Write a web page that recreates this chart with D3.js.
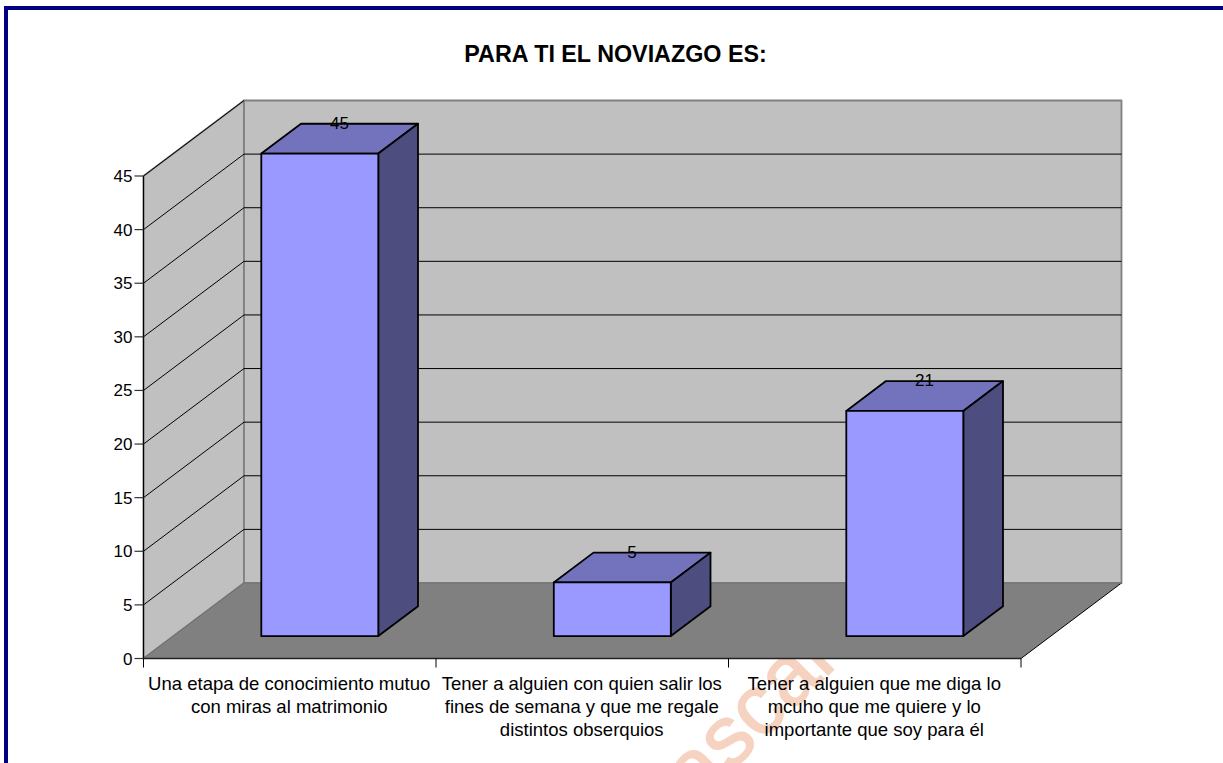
<!DOCTYPE html>
<html><head><meta charset="utf-8">
<script src="https://cdn.jsdelivr.net/npm/d3@7/dist/d3.min.js"></script>
<style>html,body{margin:0;padding:0;background:#fff;overflow:hidden}svg{display:block}text{font-family:"Liberation Sans",Arial,sans-serif;fill:#000}</style>
</head><body><svg id="c" width="1223" height="763"></svg>
<script>
const title = "PARA TI EL NOVIAZGO ES:";
const categories = [
  ["Una etapa de conocimiento mutuo","con miras al matrimonio"],
  ["Tener a alguien con quien salir los","fines de semana y que me regale","distintos obserquios"],
  ["Tener a alguien que me diga lo","mcuho que me quiere y lo","importante que soy para él"]
];
const values = [45, 5, 21];
const yTicks = [0,5,10,15,20,25,30,35,40,45];

const svg = d3.select("#c");
const y = d3.scaleLinear().domain([0,45]).range([658.5,176]);
const x = d3.scaleBand().domain(d3.range(categories.length)).range([143.5,1021]);
const DX = 100.5, DY = -75.5;
const depthFront = 0.297, depthBar = 0.395;
const barW = x.bandwidth()*0.4;
const line = d3.line();
const poly = (pts,fill,stroke,sw)=>svg.append("path").attr("d",line(pts)+"Z").attr("fill",fill).attr("stroke",stroke||"none").attr("stroke-width",sw||0).attr("stroke-linejoin","round");
const seg = (a,b,stroke,sw)=>svg.append("line").attr("x1",a[0]).attr("y1",a[1]).attr("x2",b[0]).attr("y2",b[1]).attr("stroke",stroke).attr("stroke-width",sw);

// watermark, beneath the chart
svg.append("text").attr("transform","translate(697,806) rotate(-45)")
  .attr("font-size",85).attr("style","fill:#f6d3c0;stroke:#f6d3c0;stroke-width:1.5;font-family:'Liberation Sans'").text("ascan");

// frame
svg.append("rect").attr("x",6).attr("y",8).attr("width",1300).attr("height",900).attr("fill","none").attr("stroke","#000080").attr("stroke-width",4);

const x0 = x.range()[0], x1 = x.range()[1], y0 = y(0), yT = y(45);
poly([[x0,y0],[x0+DX,y0+DY],[x0+DX,yT+DY],[x0,yT]],"#c0c0c0","#808080",1.8);
poly([[x0+DX,y0+DY],[x1+DX,y0+DY],[x1+DX,yT+DY],[x0+DX,yT+DY]],"#c0c0c0","#808080",1.8);
poly([[x0,y0],[x1,y0],[x1+DX,y0+DY],[x0+DX,y0+DY]],"#808080");
seg([x0,y0],[x0+DX,y0+DY],"#6e6e6e",1);
seg([x1,y0],[x1+DX,y0+DY],"#000",1);
seg([x0+DX,y0+DY],[x1+DX,y0+DY],"#777",1.5);
yTicks.filter(d=>d>0).forEach(d=>{
  if(d<45){ seg([x0+DX,y(d)+DY],[x1+DX,y(d)+DY],"#000",1); }
  seg([x0,y(d)],[x0+DX,y(d)+DY],"#000",1);
});
seg([x0,yT],[x0,y0],"#000",1.2);
seg([x0,y0],[x1,y0],"#222",1.5);
yTicks.forEach(d=>{
  seg([x0-9,y(d)],[x0,y(d)],"#333",1.2);
  svg.append("text").attr("x",x0-11).attr("y",y(d)+6).attr("text-anchor","end").attr("font-size",17).text(d);
});
d3.range(categories.length+1).forEach(i=>{
  const px = i<categories.length ? x(i) : x1;
  seg([px,y0],[px,y0+9],"#000",1);
});
values.forEach((v,i)=>{
  const l = x(i)+x.bandwidth()/2+DX*depthFront-barW/2+0.2, r = l+barW;
  const b = y0+DY*depthFront, t = b-(y0-y(v));
  const ox = DX*depthBar, oy = DY*depthBar;
  poly([[l,t],[l+ox,t+oy],[r+ox,t+oy],[r,t]],"#7373bd","#000",1.8);
  poly([[r,b],[r+ox,b+oy],[r+ox,t+oy],[r,t]],"#4d4d80","#000",1.8);
  poly([[l,b],[r,b],[r,t],[l,t]],"#9999ff","#000",1.8);
  svg.append("text").attr("x",l+ox+barW/2-20).attr("y",t+oy+5).attr("text-anchor","middle").attr("font-size",17).text(v);
});
categories.forEach((lines,i)=>{
  lines.forEach((s,j)=>{
    svg.append("text").attr("x",x(i)+x.bandwidth()/2-0.5).attr("y",690+j*23).attr("text-anchor","middle").attr("font-size",18.55).text(s);
  });
});
svg.append("text").attr("x",615.5).attr("y",62).attr("text-anchor","middle").attr("font-size",23.3).attr("font-weight","bold").text(title);
</script></body></html>
